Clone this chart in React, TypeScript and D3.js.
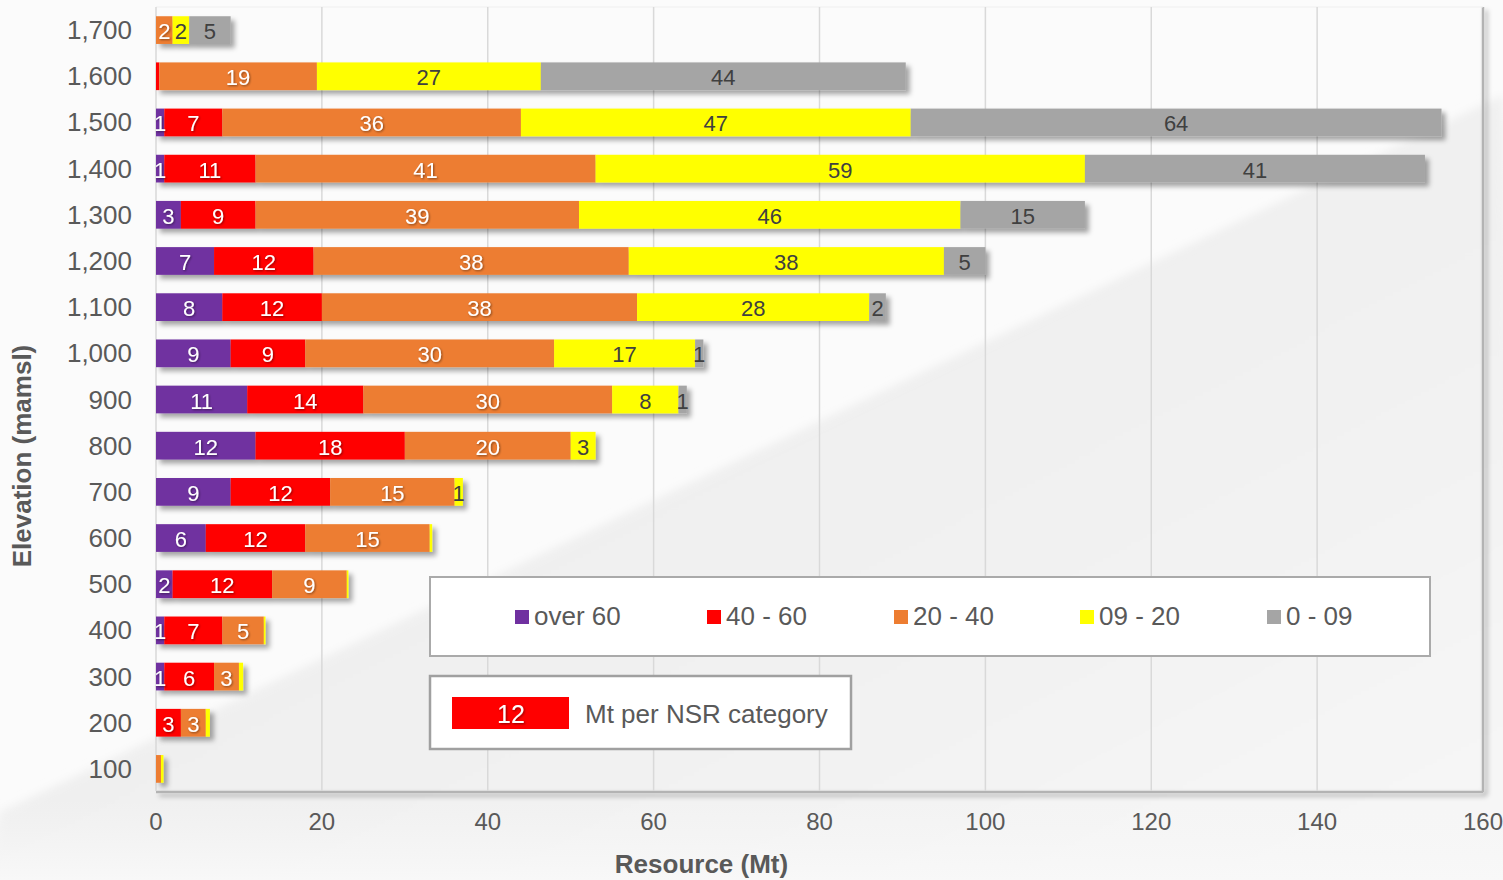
import React from "react";
import * as d3 from "d3";

// Elevation benches (top to bottom) and tonnage per NSR category, in Mt
const elevations = [1700, 1600, 1500, 1400, 1300, 1200, 1100, 1000, 900, 800, 700, 600, 500, 400, 300, 200, 100];
const over60 = [0, 0, 1, 1, 3, 7, 8, 9, 11, 12, 9, 6, 2, 1, 1, 0, 0];
const r40to60 = [0, 0.4, 7, 11, 9, 12, 12, 9, 14, 18, 12, 12, 12, 7, 6, 3, 0];
const r20to40 = [2, 19, 36, 41, 39, 38, 38, 30, 30, 20, 15, 15, 9, 5, 3, 3, 0.6];
const r09to20 = [2, 27, 47, 59, 46, 38, 28, 17, 8, 3, 1, 0.3, 0.2, 0.2, 0.5, 0.5, 0.3];
const r0to09 = [5, 44, 64, 41, 15, 5, 2, 1, 1, 0, 0, 0, 0, 0, 0, 0, 0];

const seriesNames = ["over 60", "40 - 60", "20 - 40", "09 - 20", "0 - 09"];
const seriesValues = [over60, r40to60, r20to40, r09to20, r0to09];
const seriesColors = ["#7030a0", "#ff0000", "#ed7d31", "#ffff00", "#a5a5a5"];
const labelColors = ["#ffffff", "#ffffff", "#ffffff", "#404040", "#404040"];

const xTicks = [0, 20, 40, 60, 80, 100, 120, 140, 160];

const FONT = "'Liberation Sans', Arial, sans-serif";
const TEXT = "#595959";

export default function App() {
  const W = 1503;
  const H = 880;
  const left = 156;
  const right = 1483;
  const top = 7;
  const bottom = 792;

  const x = d3.scaleLinear().domain([0, 160]).range([left, right]);
  const y = d3
    .scaleBand<number>()
    .domain(elevations)
    .range([top, bottom])
    .paddingInner(0.4)
    .paddingOuter(0.2);

  const rows = elevations.map((e, i) => ({
    elevation: e,
    ...Object.fromEntries(seriesNames.map((s, k) => [s, seriesValues[k][i]])),
  }));
  const stacked = d3.stack<any>().keys(seriesNames)(rows);

  const fmt = d3.format(",");
  const bw = y.bandwidth();

  const legendX = [515, 707, 894, 1080, 1267];

  return (
    <svg
      width={W}
      height={H}
      style={{ position: "fixed", left: 0, top: 0, display: "block" }}
      fontFamily={FONT}
    >
      <defs>
        <filter id="barShadow" x="-5%" y="-30%" width="110%" height="180%">
          <feDropShadow dx="4" dy="4" stdDeviation="2.5" floodColor="#000" floodOpacity="0.35" />
        </filter>
        <filter id="frameShadow" x="-5%" y="-5%" width="110%" height="110%">
          <feDropShadow dx="3" dy="3" stdDeviation="2.5" floodColor="#000" floodOpacity="0.35" />
        </filter>
        <filter id="textShadow" x="-30%" y="-30%" width="160%" height="160%">
          <feDropShadow dx="1" dy="1" stdDeviation="0.8" floodColor="#000" floodOpacity="0.45" />
        </filter>
        <filter id="soften">
          <feGaussianBlur stdDeviation="4" />
        </filter>
        <linearGradient id="wedge" x1="0" y1="0" x2="1" y2="1">
          <stop offset="0" stopColor="#ebebeb" />
          <stop offset="0.6" stopColor="#f1f1f1" />
          <stop offset="1" stopColor="#f7f7f7" />
        </linearGradient>
        <linearGradient id="bottomFade" x1="0" y1="0" x2="0" y2="1">
          <stop offset="0" stopColor="#f6f6f6" stopOpacity="0" />
          <stop offset="1" stopColor="#f8f8f8" stopOpacity="1" />
        </linearGradient>
      </defs>

      {/* background */}
      <rect x={0} y={0} width={W} height={H} fill="#fbfbfb" />
      <polygon
        points={`0,812 ${W},95 ${W + 20},${H + 20} -20,${H + 20}`}
        fill="url(#wedge)"
        filter="url(#soften)"
      />
      <rect x={0} y={800} width={W} height={80} fill="url(#bottomFade)" />

      {/* plot frame */}
      <g filter="url(#frameShadow)">
        <line x1={right} x2={right} y1={top} y2={bottom} stroke="#b3b3b3" strokeWidth={2.5} />
        <line x1={left} x2={right} y1={bottom} y2={bottom} stroke="#b3b3b3" strokeWidth={2.5} />
      </g>
      <line x1={left} x2={right} y1={top} y2={top} stroke="#efefef" strokeWidth={1} />

      {/* vertical gridlines */}
      {xTicks.slice(0, -1).map((t) => (
        <line key={t} x1={x(t)} x2={x(t)} y1={top} y2={bottom - 1} stroke="#d9d9d9" strokeWidth={1.5} />
      ))}

      {/* stacked bars */}
      <g filter="url(#barShadow)">
        {elevations.map((e, i) => (
          <g key={e}>
            {stacked.map((layer, k) => {
              const [x0, x1] = layer[i];
              if (x1 - x0 <= 0) return null;
              return (
                <rect
                  key={k}
                  x={x(x0)}
                  y={y(e)}
                  width={x(x1) - x(x0)}
                  height={bw}
                  fill={seriesColors[k]}
                />
              );
            })}
          </g>
        ))}
      </g>

      {/* segment labels */}
      {elevations.map((e, i) =>
        stacked.map((layer, k) => {
          const [x0, x1] = layer[i];
          const v = x1 - x0;
          if (v < 1) return null;
          const white = labelColors[k] === "#ffffff";
          return (
            <text
              key={`${e}-${k}`}
              x={(x(x0) + x(x1)) / 2}
              y={(y(e) as number) + bw / 2 + 9}
              textAnchor="middle"
              fontSize={22}
              fill={labelColors[k]}
              filter={white ? "url(#textShadow)" : undefined}
            >
              {Math.round(v)}
            </text>
          );
        })
      )}

      {/* y axis ticks */}
      {elevations.map((e) => (
        <text
          key={e}
          x={132}
          y={(y(e) as number) + bw / 2 + 9}
          textAnchor="end"
          fontSize={26}
          fill={TEXT}
        >
          {fmt(e)}
        </text>
      ))}

      {/* x axis ticks */}
      {xTicks.map((t) => (
        <text key={t} x={x(t)} y={829.5} textAnchor="middle" fontSize={24} fill={TEXT}>
          {t}
        </text>
      ))}

      {/* axis titles */}
      <text
        x={(left + right) / 2 - 118}
        y={873}
        textAnchor="middle"
        fontSize={26}
        fontWeight="bold"
        fill={TEXT}
      >
        Resource (Mt)
      </text>
      <text
        transform={`translate(31,456) rotate(-90)`}
        textAnchor="middle"
        fontSize={26}
        fontWeight="bold"
        fill={TEXT}
      >
        Elevation (mamsl)
      </text>

      {/* series legend */}
      <rect x={430} y={577} width={1000} height={79} fill="#ffffff" stroke="#aaaaaa" strokeWidth={2} />
      {seriesNames.map((s, k) => (
        <g key={s}>
          <rect x={legendX[k]} y={610} width={14} height={14} fill={seriesColors[k]} />
          <text x={legendX[k] + 19} y={625} fontSize={26} fill={TEXT}>
            {s}
          </text>
        </g>
      ))}

      {/* label key */}
      <rect x={430} y={676} width={421} height={73} fill="#ffffff" stroke="#a0a0a0" strokeWidth={2.5} />
      <rect x={452} y={697} width={117} height={32} fill="#ff0000" />
      <text x={511} y={723} textAnchor="middle" fontSize={25} fill="#ffffff" filter="url(#textShadow)">
        12
      </text>
      <text x={585} y={723} fontSize={26} fill={TEXT}>
        Mt per NSR category
      </text>
    </svg>
  );
}
